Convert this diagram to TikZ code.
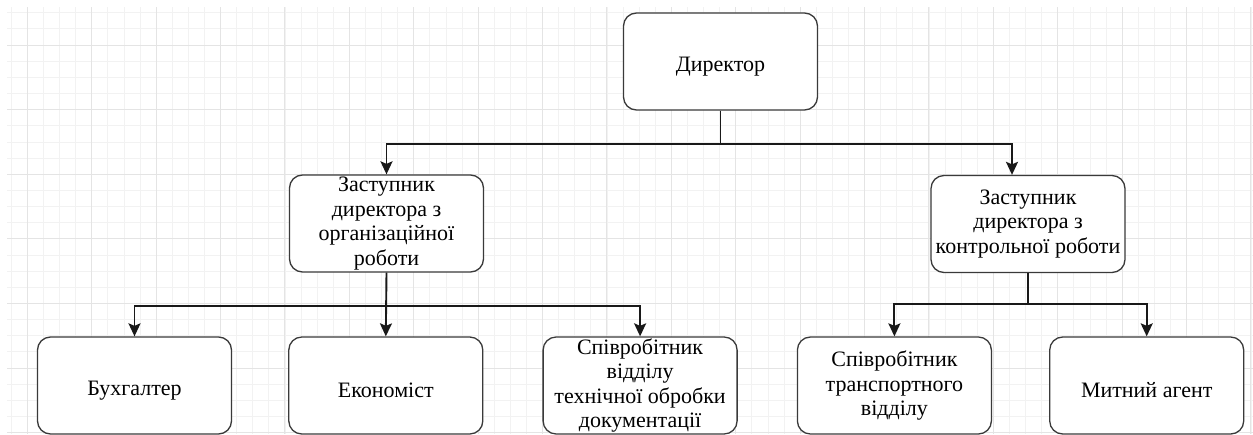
\documentclass[tikz,border=0pt]{standalone}
\usepackage{fontspec}
\setmainfont{Liberation Serif}
\usepackage{tikz}
\usetikzlibrary{arrows.meta, positioning}

\definecolor{gridminor}{HTML}{F2F2F2}
\definecolor{gridmajor}{HTML}{E4E4E4}
\definecolor{boxline}{HTML}{3A3A3A}

\begin{document}
\begin{tikzpicture}[
  x=1pt, y=-1pt,
  box/.style={rectangle, draw=boxline, line width=1.3pt, rounded corners=13pt,
              fill=white, align=center, inner xsep=3pt, inner ysep=-8pt,
              minimum width=194pt, minimum height=97pt,
              font=\rmfamily\fontsize{22}{24.4}\selectfont,
              execute at begin node={\rule{0pt}{24pt}}},
  arrow/.style={-{Stealth[length=13pt, width=12pt, inset=2.5pt]}, line width=1.9pt, draw=black!90},
  minorline/.style={draw=gridminor, line width=0.8pt},
  majorline/.style={draw=gridmajor, line width=0.9pt}
]
  \useasboundingbox (0,0) rectangle (1253,434);
  \clip (0,0) rectangle (1253,434);
  \fill[white] (0,0) rectangle (1253,434);

  \foreach \k in {0,...,77}
    \draw[minorline] ({11.2+16.1*\k},7) -- ({11.2+16.1*\k},434);
  \foreach \k in {0,...,26}
    \draw[minorline] (7,{12.7+16.15*\k}) -- (1253,{12.7+16.15*\k});
  \foreach \k in {0,...,19}
    \draw[majorline] ({27.3+64.4*\k},7) -- ({27.3+64.4*\k},434);
  \foreach \k in {0,...,6}
    \draw[majorline] (7,{45+64.6*\k}) -- (1253,{45+64.6*\k});

  \node[box] (dir) at (720.5,61.5) {Директор};
  \node[box] (zorg) at (386.5,223.5) {Заступник\\директора з\\організаційної\\роботи};
  \node[box] (zkon) at (1028,224) {Заступник\\директора з\\контрольної роботи};

  \node[box] (buh) at (134.5,385.5) {Бухгалтер};
  \node[box, right=56pt of buh] (ekon) {Економіст};
  \node[box, right=59pt of ekon] (tech) {Співробітник\\відділу\\технічної обробки\\документації};
  \node[box, right=59pt of tech] (trans) {Співробітник\\транспортного\\відділу};
  \node[box, right=57pt of trans] (mytn) {Митний агент};

  \draw[arrow] (dir.south) -- ++(0,33) -| (zorg.north);
  \draw[arrow] (dir.south) -- ++(0,33) -| ([xshift=-16pt]zkon.north);
  \draw[arrow] (zorg.south) -- ++(0,33) -| (buh.north);
  \draw[arrow] (zorg.south) -- (ekon.north);
  \draw[arrow] (zorg.south) -- ++(0,33) -| (tech.north);
  \draw[arrow] (zkon.south) -- ++(0,31) -| (trans.north);
  \draw[arrow] (zkon.south) -- ++(0,31) -| (mytn.north);
\end{tikzpicture}
\end{document}
